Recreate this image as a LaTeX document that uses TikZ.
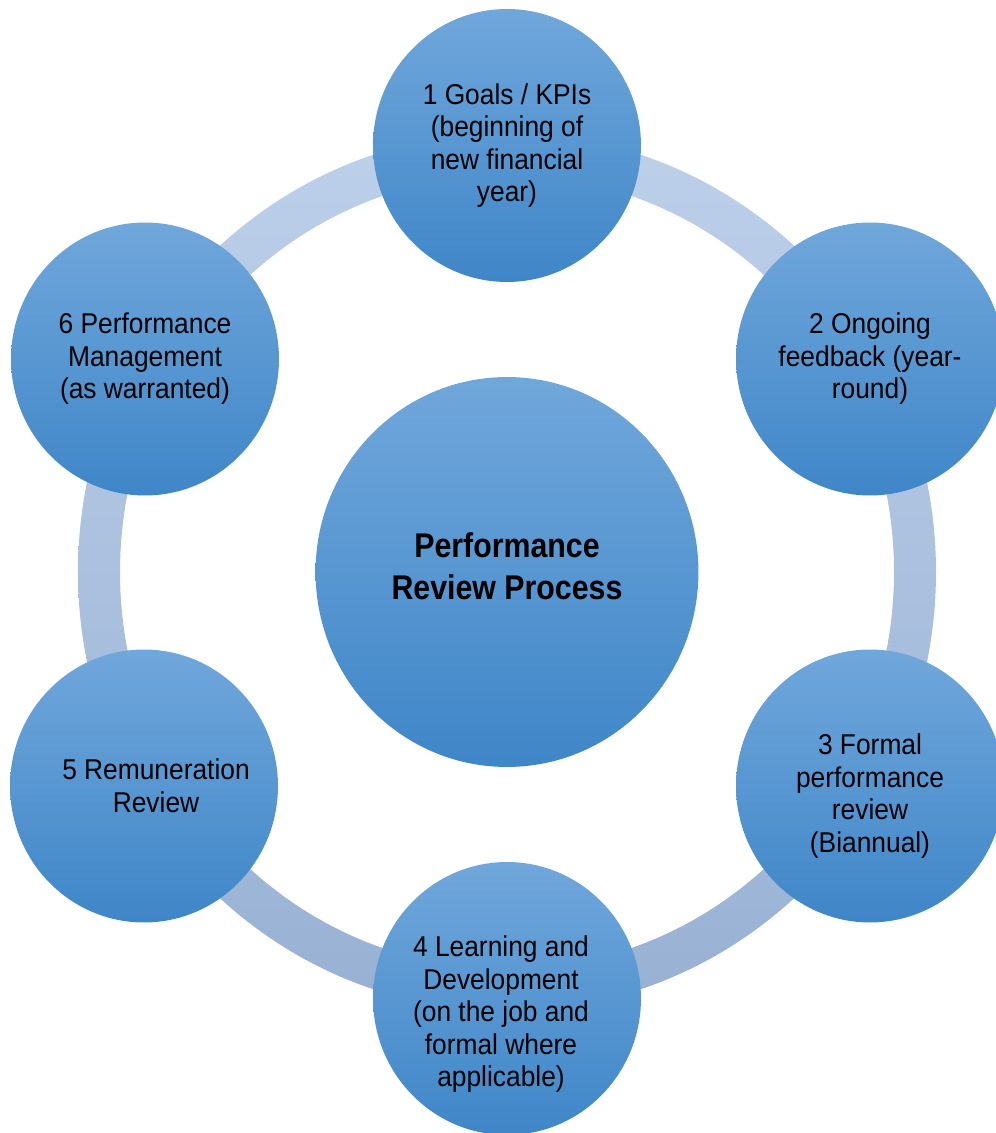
\documentclass[tikz,border=0pt]{standalone}
\usepackage{fontspec}
\setmainfont[FakeStretch=0.92]{Liberation Sans}
\newfontfamily\hubfont[FakeStretch=0.885]{Liberation Sans}
\usepackage{tikz}
\usepackage{xcolor}
\usetikzlibrary{shapes.geometric}

\definecolor{ringtop}{RGB}{189,208,234}
\definecolor{ringbot}{RGB}{152,177,211}
\definecolor{disctop}{RGB}{112,167,219}
\definecolor{discmid}{RGB}{83,154,216}
\definecolor{discbot}{RGB}{63,134,200}

\begin{document}
\begin{tikzpicture}[
    x=0.02cm, y=0.02cm,
    disc/.style={ellipse, top color=disctop, middle color=discmid, bottom color=discbot,
                 align=center, inner sep=0pt, text=black},
    steptext/.style={align=center, text=black, font=\fontsize{16.3pt}{18.5pt}\selectfont},
    stepdisc/.style={disc, steptext, minimum width=5.36cm, minimum height=5.46cm},
    hubdisc/.style={disc, minimum width=7.66cm, minimum height=7.8cm,
                 font=\hubfont\bfseries\fontsize{19.5pt}{23.9pt}\selectfont}
]
\useasboundingbox (0,0) rectangle (996,1133);
\coordinate (c) at (507,561);

% the ring behind the steps
\shade[top color=ringtop, bottom color=ringbot, even odd rule]
    (c) ellipse (429 and 439) (c) ellipse (387 and 397);

\node[hubdisc, text depth=0.24cm] (hub) at (c) {Performance\\Review Process};

\node[stepdisc] (goals)    at (507,987.5) {1 Goals / KPIs\\(beginning of\\new financial\\year)};
\node[stepdisc] (feedback) at (870,774)   {2 Ongoing\\feedback (year-\\round)};
\node[stepdisc, label={[steptext, yshift=-10*0.02cm]center:3 Formal\\performance\\review\\(Biannual)}]
                (formal)   at (870,347)   {};
\node[stepdisc, label={[steptext, xshift=-6*0.02cm, yshift=-16*0.02cm]center:4 Learning and\\Development\\(on the job and\\formal where\\applicable)}]
                (learning) at (507,134.5) {};
\node[stepdisc, label={[steptext, xshift=12*0.02cm]center:5 Remuneration\\Review}]
                (remun)    at (144,347)   {};
\node[stepdisc] (manage)   at (145,774)   {6 Performance\\Management\\(as warranted)};
\end{tikzpicture}
\end{document}
